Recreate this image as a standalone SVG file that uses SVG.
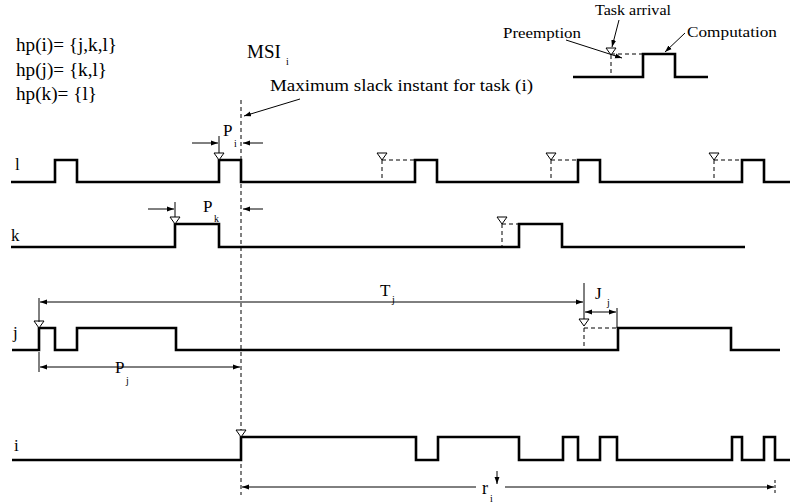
<svg xmlns="http://www.w3.org/2000/svg" width="797" height="503" viewBox="0 0 797 503">
<defs>
<marker id="ah" viewBox="0 0 10 10" refX="10" refY="5" markerWidth="7" markerHeight="7" orient="auto-start-reverse" markerUnits="userSpaceOnUse">
<path d="M0,1.5 L10,5 L0,8.5 z" fill="#000"/>
</marker>
<path id="tri" d="M-5,-7 L5,-7 L0,0 z" fill="#fff" stroke="#000" stroke-width="1"/>
</defs>
<style>
.t{font-family:"Liberation Serif","Times New Roman",serif;fill:#000}
.sig{fill:none;stroke:#000;stroke-width:2.6;stroke-linejoin:miter}
.dash{fill:none;stroke:#000;stroke-width:1;stroke-dasharray:4,3}
.thin{fill:none;stroke:#000;stroke-width:1}
.arr{fill:none;stroke:#000;stroke-width:1;marker-end:url(#ah)}
.arr2{fill:none;stroke:#000;stroke-width:1;marker-start:url(#ah);marker-end:url(#ah)}
</style>
<rect width="797" height="503" fill="#fff"/>

<g id="hp">
<text class="t" x="16" y="51" font-size="18" textLength="101" lengthAdjust="spacingAndGlyphs">hp(i)= {j,k,l}</text>
<text class="t" x="16" y="76" font-size="18" textLength="91" lengthAdjust="spacingAndGlyphs">hp(j)= {k,l}</text>
<text class="t" x="16" y="100" font-size="18" textLength="81" lengthAdjust="spacingAndGlyphs">hp(k)= {l}</text>
</g>

<g id="legend">
<text class="t" x="595" y="15" font-size="15" textLength="76" lengthAdjust="spacingAndGlyphs">Task arrival</text>
<text class="t" x="503" y="38" font-size="15" textLength="78" lengthAdjust="spacingAndGlyphs">Preemption</text>
<text class="t" x="687" y="37" font-size="15" textLength="90" lengthAdjust="spacingAndGlyphs">Computation</text>
<path class="sig" d="M573,77 H643 V54 H675 V77 H708" stroke-width="2"/>
<path class="dash" d="M611,55 V77 M611,54 H643"/>
<use href="#tri" x="611" y="55"/>
<path class="arr" d="M619,20 L612,47"/>
<path class="arr" d="M566,40 L622,58"/>
<path class="arr" d="M685,33 L665,52"/>
</g>

<g id="msi">
<text class="t" x="247" y="58" font-size="19">MSI</text>
<text class="t" x="286" y="65" font-size="10">i</text>
<text class="t" x="270" y="91" font-size="16" textLength="263" lengthAdjust="spacingAndGlyphs">Maximum slack instant for task (i)</text>
<path class="arr" d="M300,99 L244,116"/>
<path class="dash" d="M241,100 V495"/>
</g>

<g id="task-l">
<text class="t" x="15" y="170" font-size="17">l</text>
<path class="sig" d="M11,182 H55 V160 H77 V182 H219 V160 H241 V182 H415 V160 H437 V182 H578 V160 H600 V182 H742 V160 H764 V182 H790"/>
<path class="dash" d="M382,160 V182 M382,160 H415 M551,160 V182 M551,160 H578 M714,160 V182 M714,160 H742"/>
<use href="#tri" x="219" y="160"/>
<use href="#tri" x="382" y="160"/>
<use href="#tri" x="551" y="160"/>
<use href="#tri" x="714" y="160"/>
<path class="thin" d="M219,136 V153"/>
<path class="arr" d="M192,143 L218,143"/>
<path class="arr" d="M263,143 L243,143"/>
<text class="t" x="223" y="136" font-size="17">P</text>
<text class="t" x="234" y="147" font-size="10">i</text>
</g>

<g id="task-k">
<text class="t" x="11" y="241" font-size="17">k</text>
<path class="sig" d="M11,247 H175 V224 H219 V247 H519 V224 H562 V247 H745"/>
<path class="dash" d="M502,224 V247 M502,224 H519"/>
<use href="#tri" x="175" y="224"/>
<use href="#tri" x="502" y="224"/>
<path class="thin" d="M175,202 V217"/>
<path class="arr" d="M148,209 L174,209"/>
<path class="arr" d="M263,209 L243,209"/>
<text class="t" x="203" y="212" font-size="17">P</text>
<text class="t" x="214" y="222" font-size="10">k</text>
</g>

<g id="task-j">
<text class="t" x="13" y="338" font-size="17">j</text>
<path class="sig" d="M12,350 H39 V328 H55 V350 H77 V328 H176 V350 H618 V328 H731 V350 H780"/>
<path class="dash" d="M584,328 V350 M584,328 H618"/>
<use href="#tri" x="39" y="328"/>
<use href="#tri" x="584" y="326"/>
<path class="thin" d="M39,298 V322 M584,283 V319 M617,308 V328 M39,352 V372"/>
<path class="arr2" d="M40,302 L583,302"/>
<text class="t" x="380" y="296" font-size="17">T</text>
<text class="t" x="392" y="303" font-size="10">j</text>
<path class="arr2" d="M585,312 L616,312"/>
<text class="t" x="595" y="299" font-size="17">J</text>
<text class="t" x="607" y="306" font-size="10">j</text>
<path class="arr2" d="M40,367 L240,367"/>
<text class="t" x="115" y="373" font-size="17">P</text>
<text class="t" x="126" y="384" font-size="10">j</text>
</g>

<g id="task-i">
<text class="t" x="14" y="451" font-size="17">i</text>
<path class="sig" d="M12,460 H241 V437 H416 V460 H438 V437 H519 V460 H563 V437 H578 V460 H600 V437 H617 V460 H732 V437 H742 V460 H764 V437 H775 V460 H790"/>
<use href="#tri" x="241" y="437"/>
<path class="thin" d="M775,480 V493" stroke-dasharray="3,2"/>
<path class="arr" d="M476,487 L242,487"/>
<path class="arr" d="M505,487 L774,487"/>
<text class="t" x="482" y="494" font-size="18">r</text>
<text class="t" x="490" y="502" font-size="10">i</text>
<path class="arr" d="M497,471 L497,484"/>
</g>
</svg>
